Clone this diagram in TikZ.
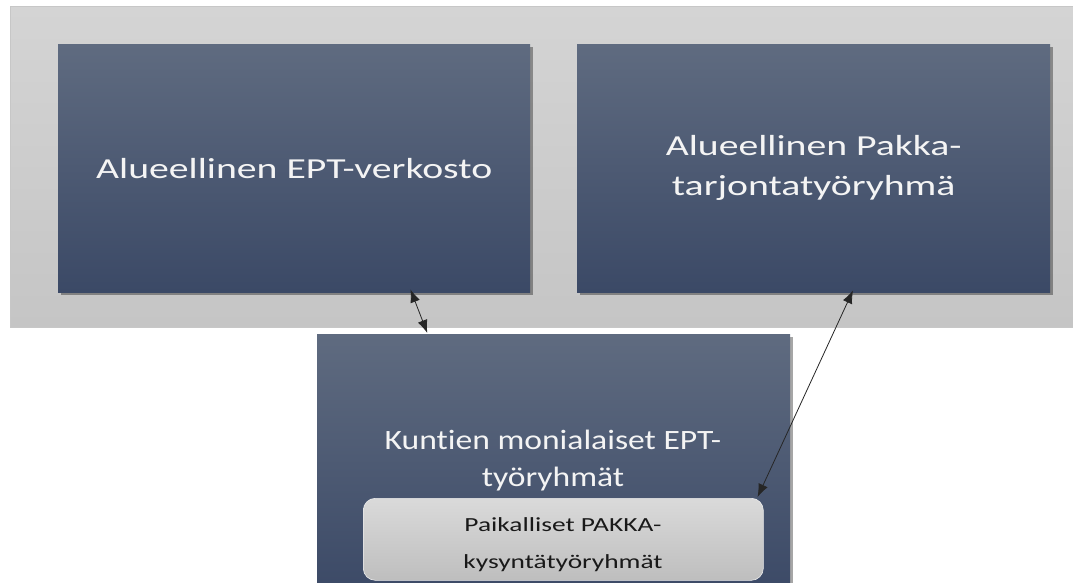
\documentclass[tikz,border=0pt]{standalone}
\usepackage{fontspec}
\setmainfont[FakeStretch=1.37, Ligatures={NoCommon}]{Carlito}
\newfontfamily\narrowf[FakeStretch=1.2, Ligatures={NoCommon}]{Carlito}
\usetikzlibrary{shadows,arrows.meta,calc}
\definecolor{boxtop}{HTML}{5F6B80}
\definecolor{boxbot}{HTML}{3B4966}
\definecolor{bgtop}{HTML}{D4D4D4}
\definecolor{bgbot}{HTML}{C5C5C5}
\definecolor{innertop}{HTML}{DADADA}
\definecolor{innerbot}{HTML}{BEBEBE}
\definecolor{txtw}{HTML}{F4F4F4}
\tikzset{
  darkbox/.style={rectangle, anchor=north west, top color=boxtop, bottom color=boxbot, draw=none,
    drop shadow={shadow xshift=3pt, shadow yshift=-3pt, opacity=0.35, fill=black},
    text=txtw, align=center, font=\fontsize{29}{40}\selectfont, inner sep=0pt},
  innerbox/.style={rectangle, rounded corners=12pt, anchor=north west, top color=innertop, bottom color=innerbot,
    draw=white!85!gray, line width=0.6pt, inner sep=0pt},
  bigtext/.style={text=txtw, align=center, font=\narrowf\fontsize{28}{37}\selectfont, inner sep=0pt},
  smalltext/.style={text=black!90, align=center, font=\fontsize{20}{37}\selectfont, inner sep=0pt},
  link/.style={{Latex[length=13pt,width=10pt]}-{Latex[length=13pt,width=10pt]}, line width=0.8pt, black!85}
}
\begin{document}
\begin{tikzpicture}[x=1pt,y=-1pt]
\useasboundingbox (0,0) rectangle (1073,583);
\fill[white] (0,0) rectangle (1073,583);
\node[rectangle, anchor=north west, top color=bgtop, bottom color=bgbot, draw=black!22, line width=0.6pt,
  minimum width=1070pt, minimum height=321pt, inner sep=0pt] (bg) at (10,6) {};
\node[darkbox, minimum width=472pt, minimum height=248pt] (L) at (58,44) {Alueellinen EPT-verkosto};
\node[darkbox, minimum width=473pt, minimum height=248pt] (R) at (577,44) {Alueellinen Pakka-\\tarjontatyöryhmä};
\node[darkbox, minimum width=473pt, minimum height=262pt] (B) at (317,334) {};
\node[bigtext] (Bt) at (553,461) {Kuntien monialaiset EPT-\\työryhmät};
\node[innerbox, minimum width=400pt, minimum height=82pt] (P) at (363,498) {};
\node[smalltext] (Pt) at (563,545) {Paikalliset PAKKA-\\kysyntätyöryhmät};
\draw[link] ($(L.south west)!0.746!(L.south east)+(0,-3)$) -- ($(B.north west)!0.233!(B.north east)+(0,-1)$);
\draw[link] ($(R.south west)!0.583!(R.south east)+(0,-2)$) -- ($(P.north east)+(-6,-1)$);
\end{tikzpicture}
\end{document}
